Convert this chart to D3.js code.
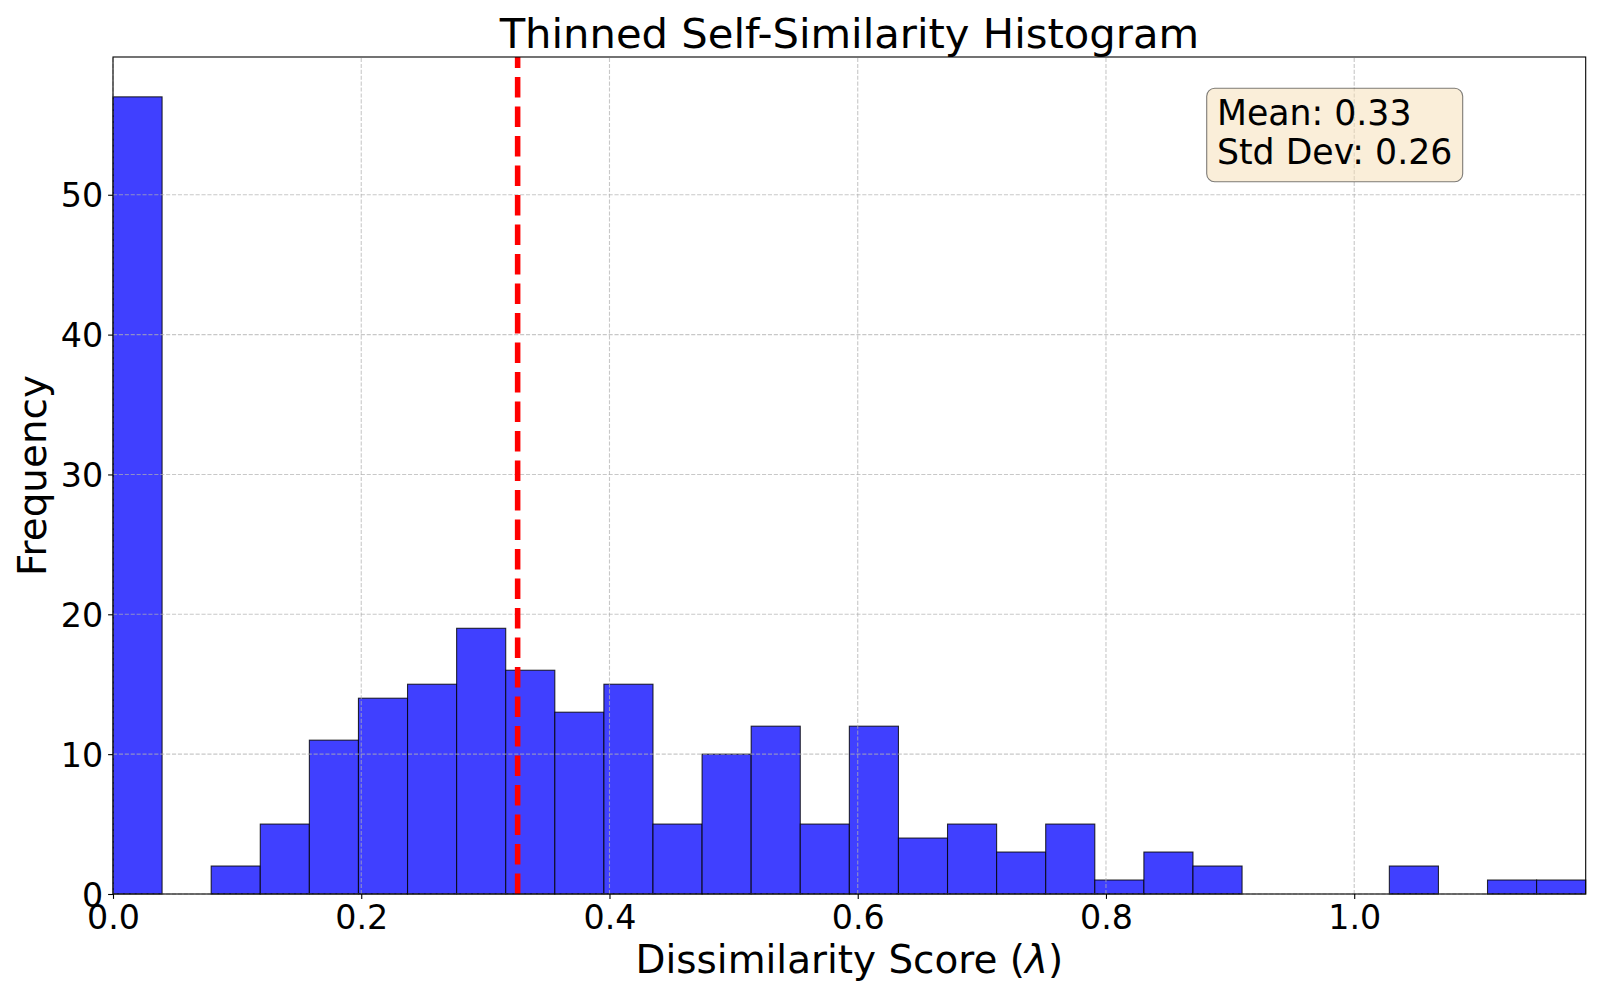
<!DOCTYPE html>
<html>
<head>
<meta charset="utf-8">
<script src="https://cdn.jsdelivr.net/npm/d3@7"></script>
<style>
  body { margin: 0; background: #fff; }
  svg text { font-family: "DejaVu Sans", sans-serif; fill: #000; }
</style>
</head>
<body>
<svg id="chart" width="1600" height="1000"></svg>
<script>
// histogram counts, 30 equal bins from 0 to the max score
var counts = [57, 0, 2, 5, 11, 14, 15, 19, 16, 13, 15, 5, 10, 12, 5, 12, 4, 5, 3, 5, 1, 3, 2, 0, 0, 0, 2, 0, 1, 1];
var scoreMax = 1.1865;
var meanScore = 0.326;
var statLines = ['Mean: 0.33', 'Std Dev: 0.26'];
var xTicks = [0, 0.2, 0.4, 0.6, 0.8, 1.0];
var yTicks = [0, 10, 20, 30, 40, 50];

var plotLeft = 113, plotRight = 1585.7, plotTop = 57, plotBottom = 894;

var svg = d3.select('#chart');

var x = d3.scaleLinear().domain([0, scoreMax]).range([plotLeft, plotRight]);
var y = d3.scaleLinear().domain([0, 59.85]).range([plotBottom, plotTop]);

var binW = scoreMax / counts.length;
var bins = counts.map(function (c, i) {
    return { x0: i * binW, x1: (i + 1) * binW, n: c };
});

// bars
svg.append('g')
    .selectAll('rect')
    .data(bins.filter(function (d) { return d.n > 0; }))
    .enter()
    .append('rect')
        .attr('x', function (d) { return x(d.x0); })
        .attr('y', function (d) { return y(d.n); })
        .attr('width', function (d) { return x(d.x1) - x(d.x0); })
        .attr('height', function (d) { return y(0) - y(d.n); })
        .attr('fill', '#4040ff')
        .attr('stroke', 'rgba(0,0,0,0.8)')
        .attr('stroke-width', 1.1);

// grid drawn above the bars, like matplotlib
var grid = svg.append('g')
    .attr('stroke', '#b0b0b0')
    .attr('stroke-opacity', 0.7)
    .attr('stroke-width', 1.1)
    .attr('stroke-dasharray', '4.1,1.8');

grid.selectAll('.vg')
    .data(xTicks)
    .enter()
    .append('line')
        .attr('x1', x).attr('x2', x)
        .attr('y1', plotBottom).attr('y2', plotTop);

grid.selectAll('.hg')
    .data(yTicks)
    .enter()
    .append('line')
        .attr('x1', plotLeft).attr('x2', plotRight)
        .attr('y1', y).attr('y2', y);

// mean line, drawn bottom to top so the dashes start at the axis
svg.append('line')
    .attr('x1', x(meanScore)).attr('x2', x(meanScore))
    .attr('y1', plotBottom).attr('y2', plotTop)
    .attr('stroke', 'red')
    .attr('stroke-width', 5.56)
    .attr('stroke-dasharray', '20.6,8.9');

// axes
var xAxis = d3.axisBottom(x)
    .tickValues(xTicks)
    .tickFormat(d3.format('.1f'))
    .tickSizeInner(4.9)
    .tickSizeOuter(0)
    .tickPadding(4.9);

var yAxis = d3.axisLeft(y)
    .tickValues(yTicks)
    .tickFormat(d3.format('d'))
    .tickSizeInner(4.9)
    .tickSizeOuter(0)
    .tickPadding(4.9);

var gx = svg.append('g')
    .attr('transform', `translate(0, ${plotBottom})`)
    .call(xAxis);

var gy = svg.append('g')
    .attr('transform', `translate(${plotLeft}, 0)`)
    .call(yAxis);

[gx, gy].forEach(function (g) {
    g.select('.domain').remove();
    g.selectAll('line').attr('stroke', '#000').attr('stroke-width', 1.1);
    g.selectAll('text')
        .style('font-family', '"DejaVu Sans", sans-serif')
        .attr('font-size', 33.3)
        .attr('fill', '#000');
});

gx.selectAll('text').attr('dy', '0.76em');
gy.selectAll('text').attr('dy', '0.36em');

// frame
svg.append('rect')
    .attr('x', plotLeft).attr('y', plotTop)
    .attr('width', plotRight - plotLeft).attr('height', plotBottom - plotTop)
    .attr('fill', 'none')
    .attr('stroke', '#000')
    .attr('stroke-width', 1.1);

// title and labels
svg.append('text')
    .attr('x', (plotLeft + plotRight) / 2)
    .attr('y', 48)
    .attr('text-anchor', 'middle')
    .attr('font-size', 41.7)
    .text('Thinned Self-Similarity Histogram');

var xLabel = svg.append('text')
    .attr('x', (plotLeft + plotRight) / 2)
    .attr('y', 973)
    .attr('text-anchor', 'middle')
    .attr('font-size', 38.9);
xLabel.append('tspan').text('Dissimilarity Score (');
xLabel.append('tspan').attr('font-style', 'italic').text('λ');
xLabel.append('tspan').text(')');

svg.append('text')
    .attr('transform', `translate(46, ${(plotTop + plotBottom) / 2}) rotate(-90)`)
    .attr('text-anchor', 'middle')
    .attr('font-size', 38.9)
    .text('Frequency');

// stats box
var box = svg.append('g');
box.append('rect')
    .attr('x', 1206.7).attr('y', 88.3)
    .attr('width', 256).attr('height', 93.4)
    .attr('rx', 8).attr('ry', 8)
    .attr('fill', 'rgba(245,222,179,0.5)')
    .attr('stroke', 'rgba(0,0,0,0.5)')
    .attr('stroke-width', 1.1);

box.selectAll('text')
    .data(statLines)
    .enter()
    .append('text')
        .attr('x', 1217)
        .attr('y', function (d, i) { return 125 + i * 39.3; })
        .attr('font-size', 34.7)
        .text(function (d) { return d; });
</script>
</body>
</html>
